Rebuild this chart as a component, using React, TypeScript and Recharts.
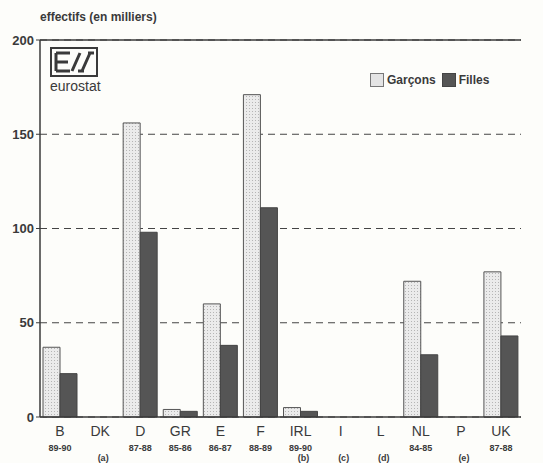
import React from 'react';
import { BarChart, Bar, XAxis, YAxis, CartesianGrid, ReferenceLine } from 'recharts';

const countries = ['B', 'DK', 'D', 'GR', 'E', 'F', 'IRL', 'I', 'L', 'NL', 'P', 'UK'];
const periods = ['89-90', '', '87-88', '85-86', '86-87', '88-89', '89-90', '', '', '84-85', '', '87-88'];
const notes = ['', '(a)', '', '', '', '', '(b)', '(c)', '(d)', '', '(e)', ''];
const garcons = [37, 0, 156, 4, 60, 171, 5, 0, 0, 72, 0, 77];
const filles = [23, 0, 98, 3, 38, 111, 3, 0, 0, 33, 0, 43];
const yTicks = [0, 50, 100, 150, 200];

const data = countries.map((c, i) => ({
  pays: c,
  garcons: garcons[i],
  filles: filles[i],
}));

const ink = '#3a3a3a';
const font = '"Liberation Sans", Arial, sans-serif';

const CountryTick = (props: any) => {
  const { x, y, payload, index } = props;
  const i = index ?? countries.indexOf(payload.value);
  return (
    <g fontFamily={font} fill={ink}>
      <text x={x} y={y + 11} textAnchor="middle" fontSize={14}>
        {payload.value}
      </text>
      <text x={x} y={y + 26} textAnchor="middle" fontSize={9} fontWeight="bold">
        {periods[i]}
      </text>
      <text x={x + 3} y={y + 36} textAnchor="middle" fontSize={9} fontWeight="bold">
        {notes[i]}
      </text>
    </g>
  );
};

export default function App() {
  return (
    <div style={{ position: 'absolute', left: 0, top: 0, width: 543, height: 463, background: '#fdfdfa' }}>
      <div style={{ position: 'absolute', left: 40, top: 10, fontFamily: font, fontSize: 12, fontWeight: 'bold', color: ink }}>
        effectifs (en milliers)
      </div>
      <BarChart
        width={543}
        height={463}
        data={data}
        margin={{ top: 40, right: 22, bottom: 0, left: 0 }}
        barSize={17}
        barGap={0}
      >
        <defs>
          <pattern id="dots" width="3" height="3" patternUnits="userSpaceOnUse">
            <rect width="3" height="3" fill="#ebebeb" />
            <rect width="1" height="1" fill="#b5b5b5" />
          </pattern>
        </defs>
        <CartesianGrid horizontal vertical={false} stroke="#444" strokeDasharray="7 5" />
        <XAxis
          dataKey="pays"
          height={46}
          interval={0}
          tickLine={false}
          axisLine={{ stroke: ink, strokeWidth: 1.5 }}
          tick={<CountryTick />}
        />
        <YAxis
          width={40}
          domain={[0, 200]}
          ticks={yTicks}
          tickSize={4}
          tickLine={{ stroke: ink }}
          axisLine={{ stroke: ink, strokeWidth: 1.5 }}
          tick={{ fontSize: 13, fontWeight: 'bold', fill: ink, fontFamily: font }}
        />
        <YAxis
          yAxisId="r"
          orientation="right"
          width={0}
          domain={[0, 200]}
          tick={false}
          tickLine={false}
          axisLine={{ stroke: ink, strokeWidth: 1.5 }}
        />
        <ReferenceLine y={200} stroke={ink} strokeWidth={1.5} />
        <Bar dataKey="garcons" name="Garçons" fill="url(#dots)" stroke="#555" strokeWidth={1} isAnimationActive={false} />
        <Bar dataKey="filles" name="Filles" fill="#555" stroke="#444" strokeWidth={1} isAnimationActive={false} />
      </BarChart>
      <div style={{ position: 'absolute', left: 370, top: 73, display: 'flex', alignItems: 'center', fontFamily: font, fontSize: 12, fontWeight: 'bold', color: ink }}>
        <span style={{ width: 12, height: 12, background: '#e4e4e4', border: '1px solid #777', marginRight: 3 }} />
        <span style={{ marginRight: 6 }}>Garçons</span>
        <span style={{ width: 12, height: 12, background: '#555', border: '1px solid #444', marginRight: 3 }} />
        <span>Filles</span>
      </div>
      <div style={{ position: 'absolute', left: 50, top: 47, width: 48 }}>
        <svg width={48} height={30} viewBox="0 0 48 30" style={{ display: 'block' }}>
          <rect x={1} y={1} width={46} height={28} fill="none" stroke={ink} strokeWidth={2} />
          <path d="M6 6 H20 M6 15 H18 M6 24 H20 M6 6 V24" stroke={ink} strokeWidth={3} fill="none" />
          <path d="M22 24 L30 6 M32 24 L40 6 M38 6 H44 M28 24 H34" stroke={ink} strokeWidth={3} fill="none" />
        </svg>
        <div style={{ fontFamily: font, fontSize: 14, color: ink, lineHeight: '14px', marginTop: 2 }}>eurostat</div>
      </div>
    </div>
  );
}
